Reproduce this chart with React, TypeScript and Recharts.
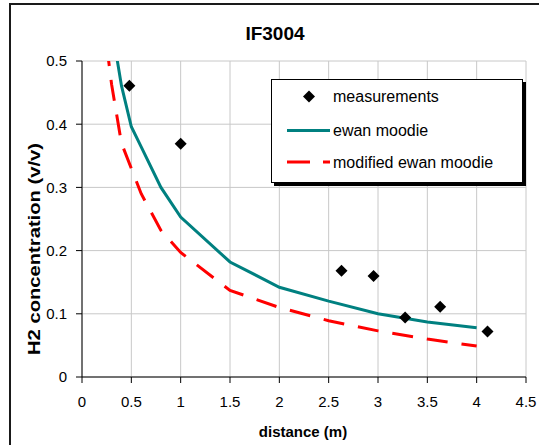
import React from 'react';
import { ComposedChart, Line, Scatter, XAxis, YAxis, CartesianGrid } from 'recharts';

const FONT = '"Liberation Sans", Arial, sans-serif';

// measurements
const MEAS_DISTANCE = [0.48, 1.0, 2.63, 2.955, 3.275, 3.63, 4.11];
const MEAS_CONC = [0.461, 0.369, 0.168, 0.16, 0.094, 0.111, 0.072];

// ewan moodie model
const EWAN_DISTANCE = [0.3, 0.4, 0.5, 0.6, 0.8, 1.0, 1.5, 2.0, 2.5, 3.0, 3.5, 4.0];
const EWAN_CONC = [0.555, 0.461, 0.396, 0.364, 0.3, 0.253, 0.182, 0.142, 0.12, 0.1, 0.087, 0.078];

// modified ewan moodie model
const MOD_DISTANCE = [0.25, 0.3, 0.4, 0.6, 0.8, 1.0, 1.5, 2.0, 2.5, 3.0, 3.5, 4.0];
const MOD_CONC = [0.525, 0.463, 0.37, 0.29, 0.232, 0.197, 0.137, 0.11, 0.089, 0.073, 0.06, 0.049];

const X_TICKS = [0, 0.5, 1, 1.5, 2, 2.5, 3, 3.5, 4, 4.5];
const Y_TICKS = [0, 0.1, 0.2, 0.3, 0.4, 0.5];

const TITLE = 'IF3004';
const X_LABEL = 'distance (m)';
const Y_LABEL = 'H2 concentration (v/v)';
const LEGEND_NAMES = ['measurements', 'ewan moodie', 'modified ewan moodie'];

const measData = MEAS_DISTANCE.map((x, i) => ({ x, y: MEAS_CONC[i] }));
const ewanData = EWAN_DISTANCE.map((x, i) => ({ x, y: EWAN_CONC[i] }));
const modData = MOD_DISTANCE.map((x, i) => ({ x, y: MOD_CONC[i] }));

const Diamond = (props: any) => {
  const { cx, cy } = props;
  const r = 6;
  return (
    <polygon
      points={`${cx},${cy - r} ${cx + r},${cy} ${cx},${cy + r} ${cx - r},${cy}`}
      fill="#000"
    />
  );
};

export default function App() {
  const tickStyle = { fill: '#000', fontSize: 15, fontFamily: FONT };
  return (
    <div
      style={{
        position: 'fixed',
        left: 0,
        top: 0,
        width: 539,
        height: 445,
        overflow: 'hidden',
        background: '#fff',
      }}
    >
      <div style={{ position: 'absolute', left: 0, top: 0 }}>
        <ComposedChart
          width={539}
          height={445}
          margin={{ top: 61, right: 13, bottom: 28, left: 10 }}
        >
          <CartesianGrid stroke="#c8c8c8" strokeWidth={1} />
          <XAxis
            type="number"
            dataKey="x"
            domain={[0, 4.5]}
            ticks={X_TICKS}
            interval={0}
            allowDataOverflow
            height={40}
            tickSize={6}
            tickMargin={13}
            tick={tickStyle}
            axisLine={{ stroke: '#000' }}
            tickLine={{ stroke: '#000' }}
          />
          <YAxis
            type="number"
            dataKey="y"
            domain={[0, 0.5]}
            ticks={Y_TICKS}
            interval={0}
            allowDataOverflow
            width={72}
            tickSize={6}
            tickMargin={9}
            tick={tickStyle}
            axisLine={{ stroke: '#000' }}
            tickLine={{ stroke: '#000' }}
          />
          <Line
            data={ewanData}
            dataKey="y"
            type="linear"
            stroke="#008080"
            strokeWidth={3}
            dot={false}
            activeDot={false}
            isAnimationActive={false}
          />
          <Line
            data={modData}
            dataKey="y"
            type="linear"
            stroke="#ff0000"
            strokeWidth={3}
            strokeDasharray="21 14"
            dot={false}
            activeDot={false}
            isAnimationActive={false}
          />
          <Scatter
            data={measData}
            dataKey="y"
            shape={<Diamond />}
            isAnimationActive={false}
          />
        </ComposedChart>
      </div>
      <svg
        width={539}
        height={445}
        style={{ position: 'absolute', left: 0, top: 0, pointerEvents: 'none' }}
        fontFamily={FONT}
      >
        <path d="M10,445 L10,4 L539,4" fill="none" stroke="#1a1a1a" strokeWidth={2} />
        <text x={275} y={40} textAnchor="middle" fontSize={19} fontWeight="bold" fill="#000">
          {TITLE}
        </text>
        <text x={303} y={437} textAnchor="middle" fontSize={15} fontWeight="bold" fill="#000">
          {X_LABEL}
        </text>
        <text
          transform="translate(40,249) rotate(-90)"
          textAnchor="middle"
          fontSize={16}
          fontWeight="bold"
          fill="#000"
          textLength={212}
          lengthAdjust="spacingAndGlyphs"
        >
          {Y_LABEL}
        </text>
        {/* legend */}
        <rect x={274} y={82} width={252} height={104} fill="#000" />
        <rect x={271.5} y={79.5} width={251} height={103} fill="#fff" stroke="#000" strokeWidth={1} />
        <polygon points="309,90.5 315,96.5 309,102.5 303,96.5" fill="#000" />
        <text x={333} y={102} fontSize={16} fill="#000">{LEGEND_NAMES[0]}</text>
        <line x1={287} y1={130.5} x2={330} y2={130.5} stroke="#008080" strokeWidth={3} />
        <text x={333} y={136} fontSize={16} fill="#000">{LEGEND_NAMES[1]}</text>
        <line x1={287} y1={162} x2={330} y2={162} stroke="#ff0000" strokeWidth={3} strokeDasharray="23 13" />
        <text x={333} y={168} fontSize={16} fill="#000">{LEGEND_NAMES[2]}</text>
      </svg>
    </div>
  );
}
